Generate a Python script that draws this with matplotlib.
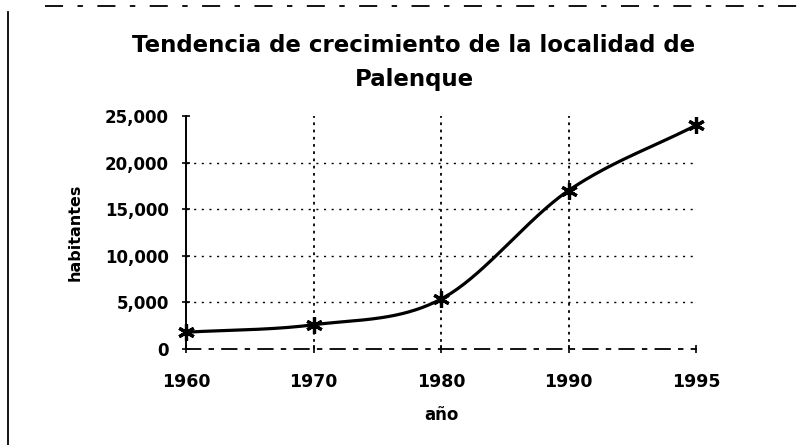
import numpy as np
import matplotlib
matplotlib.use("Agg")
import matplotlib.pyplot as plt
from matplotlib.lines import Line2D

years = ["1960", "1970", "1980", "1990", "1995"]
habitantes = [1800, 2600, 5350, 17000, 24000]
yticks = [0, 5000, 10000, 15000, 20000, 25000]

plt.rcParams['font.family'] = ['DejaVu Sans']

fig = plt.figure(figsize=(7.97, 4.45), dpi=100)
ax = fig.add_axes([186/797, 1-349/445, (696-186)/797, (349-116)/445])

x = np.arange(len(years), dtype=float)
y = np.array(habitantes, dtype=float)

# Catmull-Rom smoothing (as Excel's smoothed line)
def smooth(xp, yp, n=40):
    px = np.concatenate([[2*xp[0]-xp[1]], xp, [2*xp[-1]-xp[-2]]])
    py = np.concatenate([[2*yp[0]-yp[1]], yp, [2*yp[-1]-yp[-2]]])
    xs, ys = [], []
    for i in range(1, len(px)-2):
        t = np.linspace(0, 1, n)
        for arr, out in ((px, xs), (py, ys)):
            p0, p1, p2, p3 = arr[i-1], arr[i], arr[i+1], arr[i+2]
            out.extend(0.5*((2*p1) + (-p0+p2)*t + (2*p0-5*p1+4*p2-p3)*t**2 + (-p0+3*p1-3*p2+p3)*t**3))
    return np.array(xs), np.array(ys)

sx, sy = smooth(x, y)
ax.plot(sx, sy, color='black', lw=2.3, zorder=3, clip_on=False)
ax.plot(x, y, linestyle='none', marker=(6, 2, 0), markersize=12, markeredgewidth=2.3,
        color='black', zorder=4, clip_on=False)

ax.set_xlim(0, len(years)-1)
ax.set_ylim(0, 25000)
ax.set_xticks(x)
ax.set_xticklabels(years)
ax.set_yticks(yticks)
ax.set_yticklabels([f"{v:,}" for v in yticks])

for v in yticks[1:-1]:
    ax.axhline(v, color='black', lw=1.0, linestyle=(0, (1.5, 4)), zorder=1)
for xi in x[1:-1]:
    ax.axvline(xi, color='black', lw=1.3, linestyle=(0, (1.5, 2.5)), zorder=1)

for s in ['top', 'right']:
    ax.spines[s].set_visible(False)
ax.spines['left'].set_linewidth(1.4)
ax.spines['bottom'].set_linewidth(1.3)
ax.spines['bottom'].set_linestyle((0, (8, 5, 2, 5)))

ax.tick_params(axis='both', direction='inout', length=6, width=1.2)
ax.tick_params(axis='x', pad=14, labelsize=12.5)
ax.tick_params(axis='y', pad=9.5, labelsize=12)
for lab in ax.get_xticklabels() + ax.get_yticklabels():
    lab.set_fontweight('bold')

ax.set_xlabel("año", fontsize=12, fontweight='bold', labelpad=11)
ax.set_ylabel("habitantes", fontsize=11.5, fontweight='bold', labelpad=16)

fig.text(414/797, 1-52/445, "Tendencia de crecimiento de la localidad de",
         ha='center', va='baseline', fontsize=16.5, fontweight='bold')
fig.text(414/797, 1-86/445, "Palenque",
         ha='center', va='baseline', fontsize=16.5, fontweight='bold')

# scanned frame: left border and top dashed border
fig.add_artist(Line2D([8/797, 8/797], [0, 1-12/445], transform=fig.transFigure,
                      color='black', lw=1.3))
fig.add_artist(Line2D([45/797, 797/797], [1-6/445, 1-6/445], transform=fig.transFigure,
                      color='black', lw=1.3, linestyle=(0, (10, 8, 3, 8))))

fig.savefig("out.png", dpi=100)
